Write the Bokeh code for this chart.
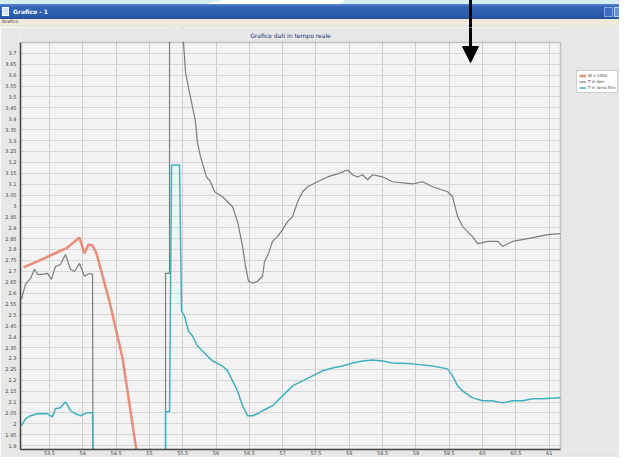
from bokeh.plotting import figure
from bokeh.layouts import column
from bokeh.models import (Range1d, FixedTicker, BoxAnnotation, Arrow, NormalHead, Legend,
                          LegendItem, Div, Label)
from bokeh.embed import file_html
from bokeh.resources import INLINE

nan = float("nan")

# ---------------- data (time in s, values) ----------------
time_w = [53.11, 53.32, 53.545, 53.77, 53.95, 54.025, 54.085, 54.146, 54.206, 54.40, 54.596, 54.79, 54.836]
w_x1000 = [2.718, 2.745, 2.777, 2.809, 2.855, 2.782, 2.823, 2.818, 2.782, 2.562, 2.302, 1.909, 1.83]

time_t2 = [53.08, 53.14, 53.215, 53.275, 53.32, 53.395, 53.47, 53.53, 53.59, 53.665, 53.74, 53.815,
           53.875, 53.95, 54.025, 54.10, 54.146, 54.153, nan,
           55.242, 55.242, 55.302, 55.302, 55.497, 55.512, 55.542, 55.60, 55.647, 55.692, 55.72,
           55.767, 55.812, 55.857, 55.917, 55.977, 56.097, 56.248, 56.323, 56.398, 56.443, 56.488,
           56.548, 56.623, 56.698, 56.728, 56.788, 56.848, 56.923, 56.998, 57.074, 57.149, 57.224,
           57.299, 57.374, 57.524, 57.674, 57.824, 57.974, 58.05, 58.125, 58.2, 58.275, 58.35,
           58.5, 58.65, 58.95, 59.1, 59.25, 59.476, 59.55, 59.626, 59.70, 59.85, 59.926, 60.08,
           60.23, 60.30, 60.45, 60.68, 60.98, 61.17]
t_den = [2.572, 2.640, 2.667, 2.709, 2.686, 2.686, 2.690, 2.663, 2.722, 2.731, 2.777, 2.709,
         2.699, 2.736, 2.677, 2.690, 2.686, 1.83, nan,
         1.83, 2.690, 2.690, 3.84, 3.84, 3.75, 3.613, 3.522, 3.453, 3.385, 3.293,
         3.225, 3.179, 3.133, 3.111, 3.065, 3.042, 2.996, 2.928, 2.814, 2.722, 2.654,
         2.645, 2.654, 2.677, 2.745, 2.782, 2.837, 2.859, 2.891, 2.928, 2.951, 3.019,
         3.065, 3.088, 3.111, 3.133, 3.147, 3.165, 3.143, 3.133, 3.143, 3.120, 3.143,
         3.133, 3.111, 3.101, 3.111, 3.088, 3.065, 3.042, 2.951, 2.905, 2.859, 2.827, 2.837,
         2.837, 2.814, 2.837, 2.850, 2.868, 2.873]

time_t3 = [53.08, 53.14, 53.215, 53.32, 53.47, 53.545, 53.59, 53.665, 53.74, 53.815, 53.89,
           53.965, 54.07, 54.146, 54.153, nan,
           55.242, 55.242, 55.302, 55.332, 55.452, 55.482, 55.527, 55.587, 55.647, 55.722,
           55.797, 55.872, 55.947, 56.097, 56.172, 56.248, 56.323, 56.398, 56.473, 56.548,
           56.623, 56.698, 56.848, 56.998, 57.149, 57.299, 57.449, 57.599, 57.749, 57.899,
           58.05, 58.2, 58.35, 58.5, 58.65, 58.95, 59.25, 59.476, 59.55, 59.626, 59.70,
           59.85, 60.0, 60.15, 60.30, 60.45, 60.60, 60.75, 60.90, 61.17]
t_film = [1.991, 2.023, 2.037, 2.046, 2.046, 2.032, 2.069, 2.074, 2.101, 2.060, 2.046,
          2.037, 2.051, 2.051, 1.83, nan,
          1.83, 2.055, 2.055, 3.188, 3.188, 2.517, 2.494, 2.425, 2.403, 2.357,
          2.334, 2.311, 2.288, 2.265, 2.243, 2.197, 2.151, 2.083, 2.037, 2.037,
          2.046, 2.060, 2.083, 2.128, 2.174, 2.197, 2.220, 2.243, 2.256, 2.265,
          2.279, 2.288, 2.293, 2.288, 2.279, 2.275, 2.265, 2.252, 2.220, 2.174, 2.151,
          2.119, 2.106, 2.106, 2.096, 2.106, 2.106, 2.115, 2.115, 2.119]

series_names = ["W x 1000", "T in den", "T in lama film"]
window_title = "Grafico - 1"
menu_text = "Grafico"
chart_title = "Grafico dati in tempo reale"

x_tick_labels = ["53.5", "54", "54.5", "55", "55.5", "56", "56.5", "57", "57.5", "58",
                 "58.5", "59", "59.5", "60", "60.5", "61"]
y_tick_labels = ["1.9", "1.95", "2", "2.05", "2.1", "2.15", "2.2", "2.25", "2.3", "2.35",
                 "2.4", "2.45", "2.5", "2.55", "2.6", "2.65", "2.7", "2.75", "2.8", "2.85",
                 "2.9", "2.95", "3", "3.05", "3.1", "3.15", "3.2", "3.25", "3.3", "3.35",
                 "3.4", "3.45", "3.5", "3.55", "3.6", "3.65", "3.7"]
x_lim = (53.065, 61.17)
y_lim = (1.882, 3.75)

FONT = "DejaVu Sans"
WIN_BG = "#e7e7e7"

# ---------------- window chrome header (HTML): title bar + menu bar ----------------
header_html = f"""
<div style="position:relative;width:619px;height:27px;overflow:hidden;background:{WIN_BG};font-family:'DejaVu Sans',sans-serif;">
  <div style="position:absolute;left:0;top:0;width:619px;height:4px;background:#d5eef1;"></div>
  <div style="position:absolute;left:205px;top:0;width:140px;height:4px;background:#ffffff;clip-path:polygon(14% 0,100% 0,96% 100%,0 100%);"></div>
  <div style="position:absolute;left:0;top:4px;width:619px;height:15px;background:linear-gradient(#5b87d0,#3264b6 20%,#2c5caa 80%,#234d98);"></div>
  <div style="position:absolute;left:2px;top:7px;width:7px;height:9px;background:#d4e3f5;border:1px solid #ffffff;box-sizing:border-box;"></div>
  <div style="position:absolute;left:13px;top:6px;height:11px;line-height:11px;color:#ffffff;font-size:6px;font-weight:bold;white-space:nowrap;">{window_title}</div>
  <div style="position:absolute;left:604px;top:7px;width:9px;height:10px;background:#3e6dbf;border:1px solid #86a6dc;box-sizing:border-box;"></div>
  <div style="position:absolute;left:614px;top:7px;width:10px;height:10px;background:#6a93d4;border:1px solid #c0d2f0;box-sizing:border-box;"></div>
  <div style="position:absolute;left:0;top:19px;width:619px;height:6px;background:#f1e9d7;"></div>
  <div style="position:absolute;left:2px;top:19px;height:6px;line-height:6px;color:#333333;font-size:4.5px;white-space:nowrap;">{menu_text}</div>
  <div style="position:absolute;left:469px;top:0px;width:3px;height:27px;background:#000000;z-index:10;"></div>
</div>
"""
hdr = Div(text=header_html, width=619, height=27, margin=0)

# ---------------- chart ----------------
# frame spans ref px x 28..627, y 35..457; plot area is x 28..568, y 50..457
frame_w, plot_w = 599.0, 540.0
frame_h, plot_h = 422.0, 407.0
x_end = x_lim[0] + (x_lim[1] - x_lim[0]) * frame_w / plot_w
y_end = y_lim[0] + (y_lim[1] - y_lim[0]) * frame_h / plot_h

p = figure(width=619, height=430, output_backend="svg", toolbar_location=None,
           x_range=Range1d(x_lim[0], x_end), y_range=Range1d(y_lim[0], y_end),
           min_border_left=20, min_border_right=0, min_border_top=0, min_border_bottom=8)
p.background_fill_color = "#f3f3f3"
p.border_fill_color = WIN_BG
p.outline_line_color = None

# reference-pixel coordinate system for decorations inside the frame
p.extra_x_ranges = {"px": Range1d(28, 627)}
p.extra_y_ranges = {"py": Range1d(457, 35)}

xt = [float(s) for s in x_tick_labels]
yt = [float(s) for s in y_tick_labels]
p.xaxis.ticker = FixedTicker(ticks=xt)
p.yaxis.ticker = FixedTicker(ticks=yt)
p.xaxis.major_label_overrides = {float(s): s for s in x_tick_labels}
p.yaxis.major_label_overrides = {float(s): s for s in y_tick_labels}
p.xaxis.bounds = x_lim
p.yaxis.bounds = y_lim
for ax in (p.xaxis[0], p.yaxis[0]):
    ax.major_tick_out = 0
    ax.major_tick_in = 0
    ax.minor_tick_out = 0
    ax.minor_tick_in = 0
    ax.axis_line_color = "#444444"
    ax.axis_line_width = 1.5
    ax.major_label_text_font = FONT
    ax.major_label_text_font_size = "5px"
    ax.major_label_text_color = "#444444"
p.yaxis.major_label_standoff = 4
p.xaxis.major_label_standoff = 1
p.xgrid.grid_line_color = "#cdcdcd"
p.ygrid.grid_line_color = "#d6d6d6"

r_w = p.line(time_w, w_x1000, line_color="#e8846c", line_width=2.5, line_alpha=0.9)
r_den = p.line(time_t2, t_den, line_color="#7c7c7c", line_width=1.2)
r_film = p.line(time_t3, t_film, line_color="#3fb0bf", line_width=1.5)

def px_box(l, r, t, b, fill, line=None, lw=1.0):
    p.add_layout(BoxAnnotation(left=l, right=r, top=t, bottom=b, fill_color=fill,
                               fill_alpha=1 if fill else 0, line_color=line, line_width=lw,
                               x_range_name="px", y_range_name="py", level="overlay"))

# window background around the plot area (top strip and right strip), plot-area border
px_box(0, 640, 20, 49.3, WIN_BG)
px_box(568.8, 640, 20, 470, WIN_BG)
px_box(28, 568, 50, 457, None, "#555555", 1.5)
p.add_layout(Label(x=298, y=43, text=chart_title, x_range_name="px", y_range_name="py",
                   text_font=FONT, text_font_size="6px", text_color="#22307a",
                   text_align="center", text_baseline="middle", level="overlay"))
# arrow: shaft as a thin black box, head as an arrow head
px_box(476.5, 479.5, 20, 60, "#000000")
p.add_layout(Arrow(x_start=478, y_start=50, x_end=478, y_end=70, line_alpha=0, line_width=0.1,
                   end=NormalHead(size=16, fill_color="black", line_color="black"),
                   x_range_name="px", y_range_name="py", level="overlay"))

legend = Legend(items=[LegendItem(label=series_names[0], renderers=[r_w]),
                       LegendItem(label=series_names[1], renderers=[r_den]),
                       LegendItem(label=series_names[2], renderers=[r_film])],
                location=(556, 356), label_text_font=FONT, label_text_font_size="4px",
                label_height=5, glyph_height=5, glyph_width=7, spacing=1, padding=2, margin=0,
                label_standoff=2, background_fill_color="white", background_fill_alpha=1,
                border_line_color="#999999", level="overlay")
p.add_layout(legend, "center")

layout = column(hdr, p, spacing=0)
open("out.html", "w").write(file_html(layout, INLINE))
